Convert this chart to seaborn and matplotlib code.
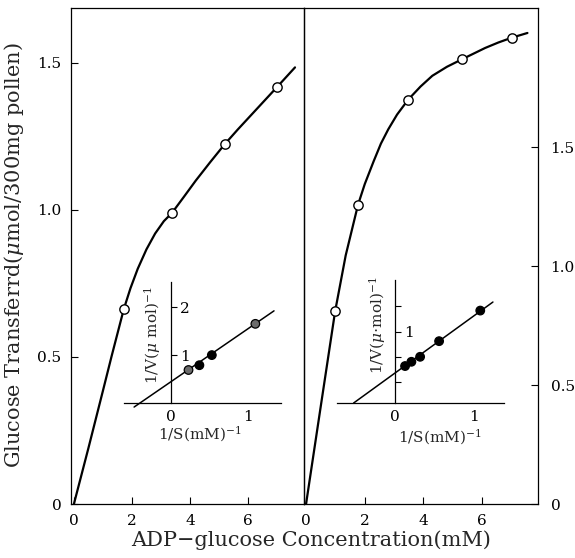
import matplotlib.pyplot as plt
import numpy as np
import pandas as pd
import seaborn as sns

# main curves, left panel
left_pts_x = [1.72, 3.38, 5.2, 7.0]
left_pts_y = [0.663, 0.99, 1.224, 1.418]
left_curve_x = [0, 0.5, 1.0, 1.3, 1.72, 1.95, 2.2, 2.5, 2.8, 3.1, 3.38,
                3.8, 4.2, 4.7, 5.2, 5.65, 6.1, 6.55, 7.0, 7.62]
left_curve_y = [0, 0.19, 0.385, 0.503, 0.663, 0.734, 0.800, 0.866, 0.920,
                0.962, 0.99, 1.046, 1.10, 1.163, 1.224, 1.274, 1.322, 1.37,
                1.418, 1.485]

# right panel
right_pts_x = [0.99, 1.77, 3.48, 5.32, 7.0]
right_pts_y = [0.81, 1.258, 1.70, 1.87, 1.96]
right_curve_x = [0, 0.5, 0.99, 1.35, 1.77, 2.0, 2.3, 2.55, 2.8, 3.1, 3.48,
                 3.9, 4.3, 4.8, 5.32, 6.1, 6.55, 7.0, 7.54]
right_curve_y = [0, 0.41, 0.81, 1.045, 1.258, 1.345, 1.44, 1.515, 1.575,
                 1.637, 1.70, 1.755, 1.80, 1.838, 1.87, 1.917, 1.94, 1.96,
                 1.98]

# Lineweaver-Burk insets
inset_l_x = [0.23, 0.37, 0.53, 1.09]
inset_l_y = [0.69, 0.79, 1.0, 1.65]
inset_l_fit_x = [-0.47, 1.33]
inset_l_fit_y = [-0.08, 1.92]

inset_r_x = [0.13, 0.21, 0.32, 0.56, 1.08]
inset_r_y = [0.52, 0.58, 0.65, 0.87, 1.30]
inset_r_fit_x = [-0.52, 1.24]
inset_r_fit_y = [0.0, 1.42]

main_ticks_x = [0, 2, 4, 6]
main_ticks_y = [0, 0.5, 1.0, 1.5]
main_ticklabels_y = ["0", "0.5", "1.0", "1.5"]

sns.set_theme(style="white")
plt.rcParams['font.family'] = ['DejaVu Serif']
plt.rcParams['mathtext.fontset'] = 'dejavuserif'

fig = plt.figure(figsize=(5.75, 5.58), dpi=100)
ax_l = fig.add_axes([71 / 575, 54 / 558, 233 / 575, 496 / 558])
ax_r = fig.add_axes([304 / 575, 54 / 558, 234 / 575, 496 / 558])


def draw_main(ax, cx, cy, px, py):
    curve = pd.DataFrame({"x": cx, "y": cy})
    pts = pd.DataFrame({"x": px, "y": py})
    sns.lineplot(data=curve, x="x", y="y", ax=ax, sort=False, estimator=None,
                 color="black", linewidth=1.6, zorder=2)
    sns.scatterplot(data=pts, x="x", y="y", ax=ax, s=45, facecolor="white",
                    edgecolor="black", linewidth=1.0, zorder=3)
    ax.set_xlabel("")
    ax.set_ylabel("")
    ax.set_xticks(main_ticks_x)
    ax.set_xticklabels([str(t) for t in main_ticks_x])
    ax.set_yticks(main_ticks_y)
    ax.set_yticklabels(main_ticklabels_y)
    ax.tick_params(direction="in", length=5, width=0.8, labelsize=11,
                   colors="black", pad=7)
    for sp in ax.spines.values():
        sp.set_color("black")
        sp.set_linewidth(0.9)
    ax.set_facecolor("none")


draw_main(ax_l, left_curve_x, left_curve_y, left_pts_x, left_pts_y)
ax_l.set_xlim(-0.1, 7.93)
ax_l.set_ylim(0, 1.687)
ax_l.tick_params(axis="y", left=True, right=False, labelleft=True)
ax_l.tick_params(axis="x", bottom=True, top=False)

draw_main(ax_r, right_curve_x, right_curve_y, right_pts_x, right_pts_y)
ax_r.set_xlim(-0.07, 7.9)
ax_r.set_ylim(0, 2.085)
ax_r.yaxis.tick_right()
ax_r.tick_params(axis="y", left=False, right=True, labelleft=False,
                 labelright=True, pad=9)
ax_r.tick_params(axis="x", bottom=True, top=False)


def draw_inset(rect, px, py, fx, fy, xlim, ylim, yticks, ylabels, ylab,
               hatched, ylab_pos, xlab_pos):
    ax = fig.add_axes(rect)
    ax.set_facecolor("none")
    fit = pd.DataFrame({"x": fx, "y": fy})
    pts = pd.DataFrame({"x": px, "y": py})
    sns.lineplot(data=fit, x="x", y="y", ax=ax, sort=False, estimator=None,
                 color="black", linewidth=1.1, zorder=2)
    # hatched symbols in the print look grey
    pts["kind"] = ["h" if i in hatched else "f" for i in range(len(pts))]
    sns.scatterplot(data=pts, x="x", y="y", hue="kind", ax=ax, s=38,
                    palette={"f": "black", "h": "0.42"}, edgecolor="black",
                    linewidth=0.9, zorder=3, legend=False)
    ax.set_xlim(*xlim)
    ax.set_ylim(*ylim)
    ax.set_xlabel("")
    ax.set_ylabel("")
    ax.spines["top"].set_visible(False)
    ax.spines["left"].set_visible(False)
    ax.spines["right"].set_position(("data", 0))
    ax.spines["right"].set_bounds(0, ylim[1])
    ax.spines["bottom"].set_position(("data", 0))
    for sp in ("right", "bottom"):
        ax.spines[sp].set_color("black")
        ax.spines[sp].set_linewidth(0.9)
    ax.yaxis.tick_right()
    ax.set_yticks(yticks)
    ax.set_yticklabels(ylabels)
    ax.set_xticks([0, 1])
    ax.set_xticklabels(["0", "1"])
    ax.set_xticks([0.5], minor=True)
    ax.tick_params(axis="x", which="both", direction="in", length=5,
                   width=0.8, labelsize=11, pad=5, colors="black")
    ax.tick_params(axis="y", direction="out", length=4, width=0.8,
                   labelsize=11, pad=3, colors="black", left=False,
                   right=True)
    ax.grid(False)
    fig.text(xlab_pos[0] / 575, 1 - xlab_pos[1] / 558, "1/S(mM)$^{-1}$",
             ha="center", va="center", fontsize=11)
    fig.text(ylab_pos[0] / 575, 1 - ylab_pos[1] / 558, ylab, rotation=90,
             ha="center", va="center", fontsize=11)
    return ax


draw_inset([124 / 575, 150 / 558, 157 / 575, 126 / 558],
           inset_l_x, inset_l_y, inset_l_fit_x, inset_l_fit_y,
           (-0.6, 1.42), (-0.1, 2.52), [1, 2], ["1", "2"],
           "1/V($\\mu$ mol)$^{-1}$", [0, 3], (153, 335), (200, 434))

draw_inset([337 / 575, 150 / 558, 167 / 575, 128 / 558],
           inset_r_x, inset_r_y, inset_r_fit_x, inset_r_fit_y,
           (-0.73, 1.38), (-0.07, 1.73), [0.3, 0.65, 1.0, 1.37],
           ["", "", "1", ""],
           "1/V($\\mu$$\\cdot$mol)$^{-1}$", [], (378, 325), (440, 437))

fig.text(14 / 575, 1 - 255 / 558, "Glucose Transferrd($\\mu$mol/300mg pollen)",
         rotation=90, ha="center", va="center", fontsize=15)
fig.text(311 / 575, 1 - 540 / 558, "ADP\u2212glucose Concentration(mM)",
         ha="center", va="center", fontsize=15)

fig.savefig("out.png", dpi=100, facecolor="white")
